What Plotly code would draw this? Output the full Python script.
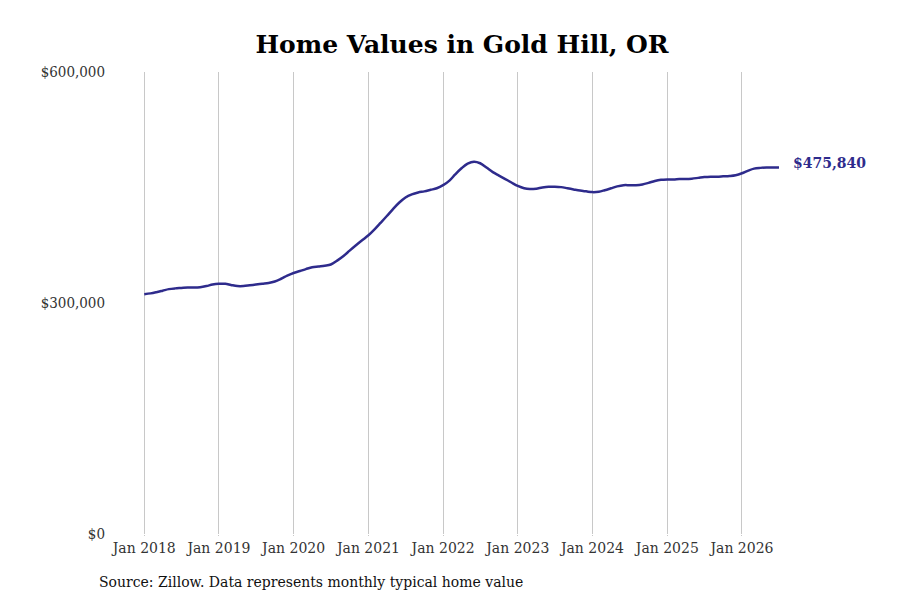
import pandas as pd
import plotly.graph_objects as go

# monthly typical home value, Jan 2018 - Jul 2026
months = pd.date_range("2018-01-01", "2026-07-01", freq="MS")
values = [
    311500, 312500, 314000, 316000, 318000, 319000, 319500, 320000, 320000, 320500, 322000, 324000,
    325000, 325000, 323500, 322000, 322000, 323000, 324000, 325000, 326000, 328000, 331500, 335500,
    339000, 341500, 344000, 346500, 347500, 348500, 350000, 355000, 361000, 368000, 375000, 381500,
    388000, 396000, 404000, 413000, 422000, 430500, 437000, 441000, 443500, 445000, 447000, 449000,
    453000, 459000, 467000, 475000, 481000, 483500, 481500, 476000, 470000, 465500, 461000, 456500,
    452000, 449000, 448000, 448500, 450000, 451000, 451000, 450500, 449000, 447500, 446000, 445000,
    444000, 444500, 446500, 449000, 451500, 453000, 453000, 453000, 454000, 456000, 458500, 460000,
    460500, 460500, 461000, 461000, 461500, 462500, 463500, 464000, 464000, 464500, 465000, 466000,
    468500, 472000, 474500, 475500, 476000, 476000, 475840,
]
y_ticks = [0, 300000, 600000]
y_labels = ["$0", "$300,000", "$600,000"]
x_ticks = pd.date_range("2018-01-01", "2026-01-01", freq="YS")
x_labels = [d.strftime("Jan %Y") for d in x_ticks]

navy = "#2e2b8c"

fig = go.Figure()
fig.add_trace(go.Scatter(x=months, y=values, mode="lines",
                         line=dict(color=navy, width=2.5, shape="spline"),
                         showlegend=False, hoverinfo="skip"))

fig.add_annotation(x=months[-1], y=values[-1], text=f"<b>${values[-1]:,}</b>",
                   showarrow=False, xanchor="left", xshift=12, yshift=5,
                   font=dict(family="DejaVu Serif", size=14, color=navy))

fig.add_annotation(xref="paper", yref="paper", x=-0.024, y=-0.104,
                   text="Source: Zillow. Data represents monthly typical home value",
                   showarrow=False, xanchor="left", yanchor="middle",
                   font=dict(family="DejaVu Serif", size=14, color="#111"))

# page has an 8px body margin, so the figure is a bit smaller than the window
fig.update_layout(
    width=892, height=592,
    title=dict(text="<b>Home Values in Gold Hill, OR</b>", x=0.509, xanchor="center",
               y=0.939, yanchor="middle",
               font=dict(family="DejaVu Serif", size=25, color="#000")),
    margin=dict(l=107, r=40, t=64, b=66),
    plot_bgcolor="white", paper_bgcolor="white",
)
fig.update_xaxes(range=["2017-08-11", "2027-08-01"], tickvals=x_ticks, ticktext=x_labels,
                 showgrid=True, gridcolor="#c8c8c8", gridwidth=1, zeroline=False,
                 showline=False, ticks="outside", ticklen=1, tickcolor="#c8c8c8",
                 tickfont=dict(family="DejaVu Serif", size=14, color="#333"))
fig.update_yaxes(range=[0, 600000], tickvals=y_ticks, ticktext=y_labels,
                 showgrid=False, zeroline=False, showline=False,
                 ticks="outside", ticklen=6, tickcolor="rgba(0,0,0,0)",
                 tickfont=dict(family="DejaVu Serif Condensed, DejaVu Serif", size=15, color="#333"))

fig.write_html("out.html")
